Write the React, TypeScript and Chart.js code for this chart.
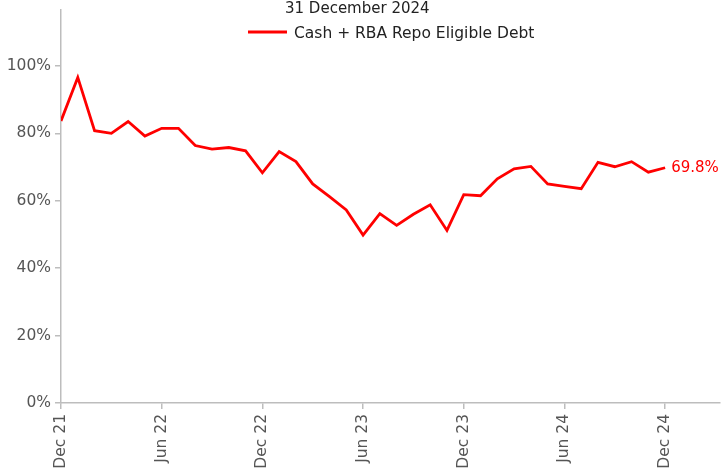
import React, { useEffect, useRef } from "react";
import { Chart, registerables } from "chart.js";

Chart.register(...registerables);

const titleText = "31 December 2024";
const seriesLabel = "Cash + RBA Repo Eligible Debt";
const tickLabels = ["Dec 21", "Jun 22", "Dec 22", "Jun 23", "Dec 23", "Jun 24", "Dec 24"];
const tickPositions = [0, 6, 12, 18, 24, 30, 36];
const values = [
  83.7, 96.6, 80.8, 80.0, 83.5, 79.2, 81.5, 81.5, 76.4, 75.3, 75.8, 74.8,
  68.3, 74.6, 71.6, 65.0, 61.2, 57.3, 49.8, 56.2, 52.7, 56.0, 58.8, 51.2,
  61.8, 61.5, 66.5, 69.5, 70.2, 65.0, 64.3, 63.6, 71.4, 70.1, 71.6, 68.5, 69.8,
];
const yTicks = [0, 20, 40, 60, 80, 100];

const FONT = "'DejaVu Sans', Verdana, sans-serif";

export default function App() {
  const ref = useRef<HTMLCanvasElement | null>(null);
  useEffect(() => {
    if (!ref.current) return;
    const points = values.map((v, i) => ({ x: i, y: v }));
    const overlay = {
      id: "overlay",
      afterDraw(chart: any) {
        const ctx = chart.ctx;
        ctx.save();
        ctx.font = `15px ${FONT}`;
        ctx.fillStyle = "#222";
        ctx.textBaseline = "alphabetic";
        ctx.textAlign = "left";
        ctx.fillText(titleText, 285, 12.5);
        ctx.strokeStyle = "#ff0000";
        ctx.lineWidth = 3;
        ctx.beginPath();
        ctx.moveTo(248, 32);
        ctx.lineTo(287, 32);
        ctx.stroke();
        ctx.font = `15.5px ${FONT}`;
        ctx.fillText(seriesLabel, 294, 37.5);
        const meta = chart.getDatasetMeta(0);
        const last = meta.data[meta.data.length - 1];
        ctx.font = `15px ${FONT}`;
        ctx.fillStyle = "#ff0000";
        ctx.textBaseline = "middle";
        ctx.fillText(values[values.length - 1].toFixed(1) + "%", last.x + 6, last.y);
        ctx.restore();
      },
    };
    const chart = new Chart(ref.current, {
      type: "line",
      data: {
        datasets: [
          {
            label: seriesLabel,
            data: points,
            borderColor: "#ff0000",
            borderWidth: 2.8,
            pointRadius: 0,
            tension: 0,
            fill: false,
          },
        ],
      },
      options: {
        animation: false,
        responsive: false,
        maintainAspectRatio: false,
        layout: { padding: { top: 10, right: 2, left: 0, bottom: 0 } },
        plugins: { legend: { display: false }, title: { display: false }, tooltip: { enabled: false } },
        scales: {
          x: {
            type: "linear",
            min: 0,
            max: 39.27,
            afterFit(scale: any) {
              scale.height = 67;
              scale.paddingTop = 0;
              scale.paddingBottom = 0;
              scale.paddingLeft = 0;
              scale.paddingRight = 0;
            },
            afterBuildTicks(scale: any) {
              scale.ticks = tickPositions.map((v) => ({ value: v }));
            },
            ticks: {
              autoSkip: false,
              maxRotation: 90,
              minRotation: 90,
              padding: 5,
              color: "#555",
              font: { family: FONT, size: 15.5 },
              callback(value: any) {
                const idx = tickPositions.indexOf(Number(value));
                return idx >= 0 ? tickLabels[idx] : "";
              },
            },
            grid: { drawOnChartArea: false, drawTicks: true, tickLength: 6, color: "#bdbdbd", lineWidth: 1.5 },
            border: { display: true, color: "#bdbdbd", width: 1.5 },
          },
          y: {
            min: 0,
            max: 116.6,
            afterFit(scale: any) {
              scale.width = 61;
              scale.paddingTop = 0;
              scale.paddingBottom = 0;
              scale.paddingLeft = 0;
              scale.paddingRight = 0;
            },
            afterBuildTicks(scale: any) {
              scale.ticks = yTicks.map((v) => ({ value: v }));
            },
            ticks: {
              padding: 4,
              color: "#555",
              font: { family: FONT, size: 15.5 },
              callback(value: any) {
                return value + "%";
              },
            },
            grid: { drawOnChartArea: false, drawTicks: true, tickLength: 6, color: "#bdbdbd", lineWidth: 1.5 },
            border: { display: true, color: "#bdbdbd", width: 1.5 },
          },
        },
      },
      plugins: [overlay],
    });
    return () => chart.destroy();
  }, []);
  return (
    <div style={{ position: "absolute", left: 0, top: 0, width: 722, height: 470, background: "#fff" }}>
      <canvas ref={ref} width={722} height={470} style={{ width: 722, height: 470, display: "block" }} />
    </div>
  );
}
